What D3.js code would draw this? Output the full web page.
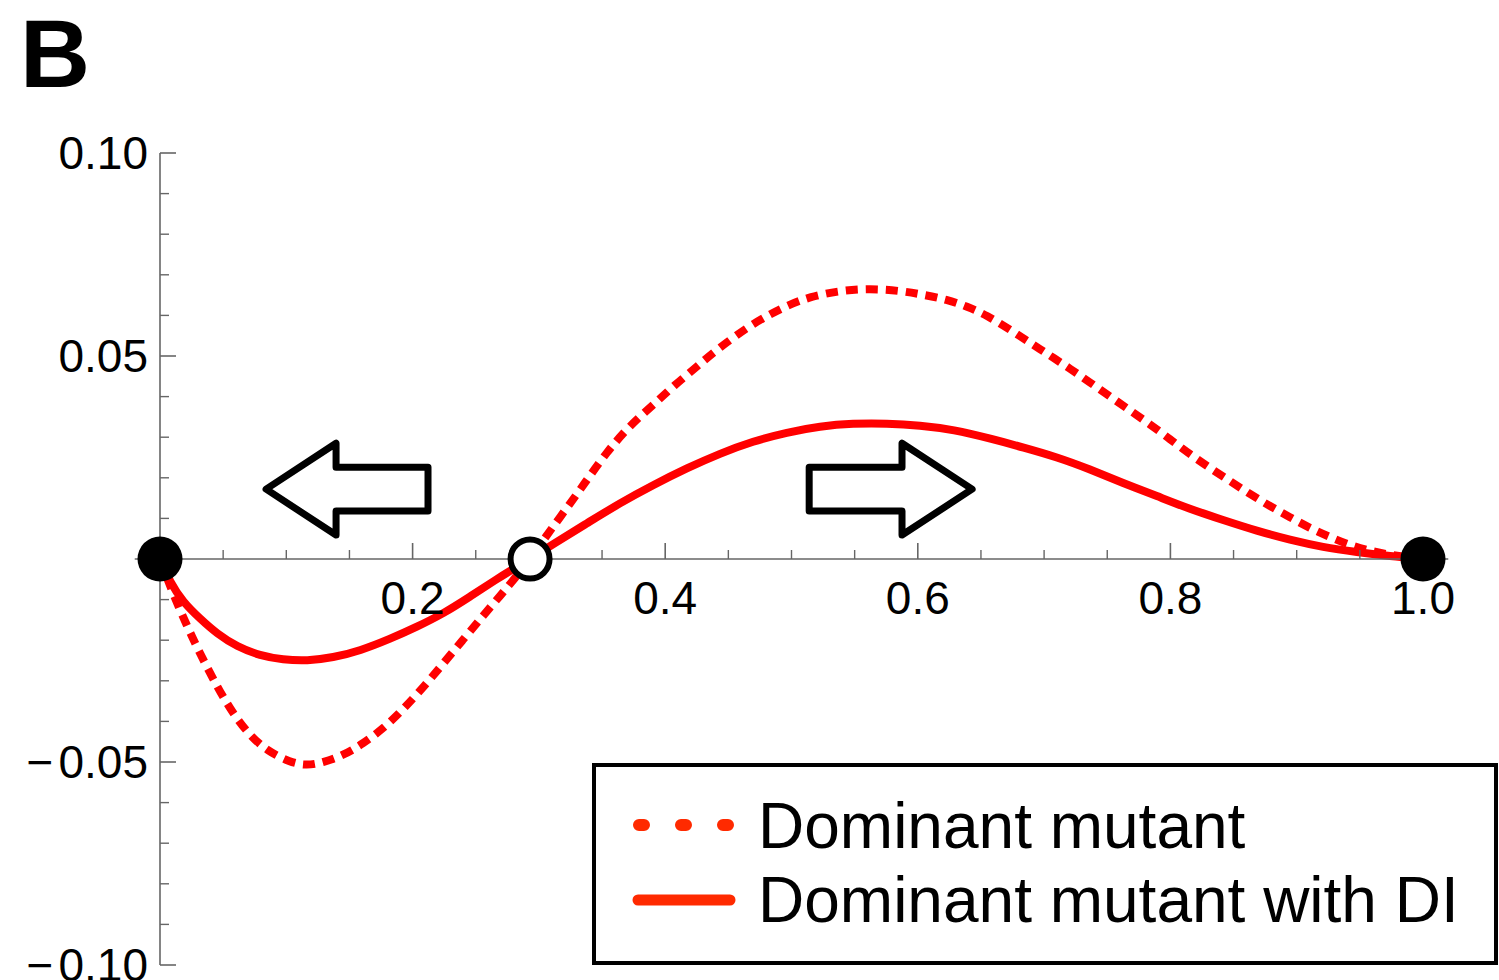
<!DOCTYPE html>
<html>
<head>
<meta charset="utf-8">
<script src="https://cdn.jsdelivr.net/npm/d3@7"></script>
<style>
  html, body { margin: 0; padding: 0; background: #fff; }
  svg { display: block; }
  text { font-family: "Liberation Sans", Arial, Helvetica, sans-serif; }
</style>
</head>
<body>
<svg id="chart" width="1499" height="980"></svg>
<script>
// Selection gradient for the mutant allele frequency (x in [0, 1])
const dominantMutant = [
  [0, 0], [0.0103, -0.0086], [0.0214, -0.0165], [0.0317, -0.0233], [0.0451, -0.0314],
  [0.0578, -0.0381], [0.0713, -0.0435], [0.0847, -0.0472], [0.1029, -0.0501], [0.1164, -0.0509],
  [0.1291, -0.0501], [0.1449, -0.0484], [0.1607, -0.0455], [0.1766, -0.0418], [0.1924, -0.0371],
  [0.2082, -0.0317], [0.2241, -0.0258], [0.2399, -0.0199], [0.2557, -0.0140], [0.2692, -0.0091],
  [0.2811, -0.0047], [0.2930, 0], [0.3048, 0.0052], [0.3167, 0.0103], [0.3302, 0.0160],
  [0.3405, 0.0206], [0.3539, 0.0263], [0.3666, 0.0310], [0.3800, 0.0351], [0.3935, 0.0388],
  [0.4062, 0.0425], [0.4252, 0.0474], [0.4410, 0.0516], [0.4648, 0.0570], [0.4806, 0.0599],
  [0.4964, 0.0624], [0.5146, 0.0646], [0.5384, 0.0661], [0.5621, 0.0666], [0.5859, 0.0661],
  [0.6041, 0.0651], [0.6231, 0.0639], [0.6390, 0.0622], [0.6548, 0.0600], [0.6730, 0.0565],
  [0.6888, 0.0533], [0.7047, 0.0501], [0.7205, 0.0469], [0.7363, 0.0435], [0.7522, 0.0400],
  [0.7680, 0.0366], [0.7838, 0.0332], [0.7997, 0.0295], [0.8155, 0.0258], [0.8314, 0.0224],
  [0.8472, 0.0192], [0.8630, 0.0160], [0.8789, 0.0130], [0.8947, 0.0103], [0.9105, 0.0076],
  [0.9264, 0.0054], [0.9422, 0.0034], [0.9580, 0.0020], [0.9739, 0.0010], [0.9897, 0.0004],
  [1.0, 0]
];

const dominantMutantDI = [
  [0, 0], [0.0079, -0.0057], [0.0182, -0.0106], [0.0317, -0.0147], [0.0451, -0.0184],
  [0.0610, -0.0216], [0.0792, -0.0238], [0.0974, -0.0248], [0.1164, -0.0251], [0.1370, -0.0243],
  [0.1584, -0.0226], [0.1821, -0.0197], [0.2035, -0.0167], [0.2241, -0.0135], [0.2454, -0.0093],
  [0.2668, -0.0049], [0.2795, -0.0025], [0.2930, 0], [0.3112, 0.0037], [0.3381, 0.0088],
  [0.3642, 0.0138], [0.3903, 0.0182], [0.4173, 0.0224], [0.4434, 0.0260], [0.4695, 0.0290],
  [0.4964, 0.0312], [0.5226, 0.0327], [0.5487, 0.0334], [0.5756, 0.0334], [0.6017, 0.0329],
  [0.6279, 0.0319], [0.6595, 0.0295], [0.6833, 0.0275], [0.7102, 0.0251], [0.7363, 0.0221],
  [0.7625, 0.0187], [0.7894, 0.0155], [0.8155, 0.0123], [0.8416, 0.0096], [0.8686, 0.0069],
  [0.8947, 0.0047], [0.9208, 0.0029], [0.9477, 0.0017], [0.9739, 0.0007], [1.0, 0]
];

const stablePoints = [0, 1];
const unstablePoints = [0.293];

const xMajorTicks = [0.2, 0.4, 0.6, 0.8, 1.0];
const xTickLabels = ["0.2", "0.4", "0.6", "0.8", "1.0"];
const yMajorTicks = [0.10, 0.05, -0.05, -0.10];
const yTickLabels = ["0.10", "0.05", "\u22120.05", "\u22120.10"];

const legendLabels = ["Dominant mutant", "Dominant mutant with DI"];

// Direction-of-selection arrows, in data units
const flowArrows = [
  { tip: 0.084, head: 0.1394, tail: 0.2122, mid: 0.0172, headHalf: 0.0113, shaftHalf: 0.0054 },
  { tip: 0.643, head: 0.5875, tail: 0.514, mid: 0.0172, headHalf: 0.0113, shaftHalf: 0.0054 }
];

const svg = d3.select("#chart");

const x = d3.scaleLinear().domain([0, 1]).range([160, 1423]);
const y = d3.scaleLinear().domain([-0.1, 0.1]).range([965, 153]);

const axisColor = "#666";

// Panel letter
svg.append("text")
  .attr("x", 20).attr("y", 87)
  .attr("font-size", 97).attr("font-weight", "bold")
  .text("B");

// Curves
const line = d3.line()
  .x(d => x(d[0]))
  .y(d => y(d[1]))
  .curve(d3.curveBasis);

svg.append("path")
  .datum(dominantMutant)
  .attr("d", line)
  .attr("fill", "none")
  .attr("stroke", "#ff0000")
  .attr("stroke-width", 8)
  .attr("stroke-dasharray", "12 8");

svg.append("path")
  .datum(dominantMutantDI)
  .attr("d", line)
  .attr("fill", "none")
  .attr("stroke", "#ff0000")
  .attr("stroke-width", 8);

// X axis: line through y = 0, upward ticks
const xAxisG = svg.append("g");
xAxisG.append("line")
  .attr("x1", x(-0.02)).attr("x2", x(1.02))
  .attr("y1", y(0)).attr("y2", y(0))
  .attr("stroke", axisColor).attr("stroke-width", 1.6);

const xMinor = d3.range(1, 20).map(i => i * 0.05).filter(v => Math.abs(v / 0.2 - Math.round(v / 0.2)) > 1e-6);
xAxisG.selectAll(".xminor").data(xMinor).join("line")
  .attr("x1", d => x(d)).attr("x2", d => x(d))
  .attr("y1", y(0)).attr("y2", y(0) - 9)
  .attr("stroke", axisColor).attr("stroke-width", 1.4);
xAxisG.selectAll(".xmajor").data(xMajorTicks).join("line")
  .attr("x1", d => x(d)).attr("x2", d => x(d))
  .attr("y1", y(0)).attr("y2", y(0) - 16)
  .attr("stroke", axisColor).attr("stroke-width", 1.6);
xAxisG.selectAll(".xlabel").data(xMajorTicks).join("text")
  .attr("x", d => x(d)).attr("y", y(0) + 55)
  .attr("text-anchor", "middle")
  .attr("font-size", 46)
  .text((d, i) => xTickLabels[i]);

// Y axis: line at x = 0, rightward ticks
const yAxisG = svg.append("g");
yAxisG.append("line")
  .attr("x1", x(0)).attr("x2", x(0))
  .attr("y1", y(0.1)).attr("y2", y(-0.1))
  .attr("stroke", axisColor).attr("stroke-width", 1.6);
const yMinor = d3.range(-10, 11).map(i => i * 0.01).filter(v => Math.abs(v / 0.05 - Math.round(v / 0.05)) > 1e-6);
yAxisG.selectAll(".yminor").data(yMinor).join("line")
  .attr("x1", x(0)).attr("x2", x(0) + 9)
  .attr("y1", d => y(d)).attr("y2", d => y(d))
  .attr("stroke", axisColor).attr("stroke-width", 1.4);
yAxisG.selectAll(".ymajor").data(yMajorTicks).join("line")
  .attr("x1", x(0)).attr("x2", x(0) + 16)
  .attr("y1", d => y(d)).attr("y2", d => y(d))
  .attr("stroke", axisColor).attr("stroke-width", 1.6);
yAxisG.selectAll(".ylabel").data(yMajorTicks).join("text")
  .attr("x", x(0) - 12).attr("y", d => y(d) + 16)
  .attr("text-anchor", "end")
  .attr("font-size", 46)
  .each(function(d, i) {
    const t = d3.select(this);
    const label = yTickLabels[i];
    if (label.startsWith("\u2212")) {
      t.append("tspan").text("\u2212");
      t.append("tspan").attr("dx", 5).text(label.slice(1));
    } else {
      t.text(label);
    }
  });

// Flow arrows
flowArrows.forEach(a => {
  const pts = [
    [a.tip, a.mid],
    [a.head, a.mid + a.headHalf],
    [a.head, a.mid + a.shaftHalf],
    [a.tail, a.mid + a.shaftHalf],
    [a.tail, a.mid - a.shaftHalf],
    [a.head, a.mid - a.shaftHalf],
    [a.head, a.mid - a.headHalf]
  ];
  svg.append("path")
    .attr("d", d3.line().x(p => x(p[0])).y(p => y(p[1]))(pts) + "Z")
    .attr("fill", "#fff")
    .attr("stroke", "#000")
    .attr("stroke-width", 7)
    .attr("stroke-linejoin", "round");
});

// Equilibria
svg.selectAll(".stable").data(stablePoints).join("circle")
  .attr("cx", d => x(d)).attr("cy", y(0))
  .attr("r", 22.5)
  .attr("fill", "#000");
svg.selectAll(".unstable").data(unstablePoints).join("circle")
  .attr("cx", d => x(d)).attr("cy", y(0))
  .attr("r", 19.5)
  .attr("fill", "#fff")
  .attr("stroke", "#000")
  .attr("stroke-width", 6);

// Legend
const legend = svg.append("g");
legend.append("rect")
  .attr("x", 594).attr("y", 765)
  .attr("width", 902).attr("height", 198)
  .attr("fill", "#fff")
  .attr("stroke", "#000")
  .attr("stroke-width", 4);

const legendColor = "#ff2a00";
legend.append("line")
  .attr("x1", 639).attr("x2", 731)
  .attr("y1", 825).attr("y2", 825)
  .attr("stroke", legendColor)
  .attr("stroke-width", 12)
  .attr("stroke-linecap", "round")
  .attr("stroke-dasharray", "5 37");
legend.append("line")
  .attr("x1", 638).attr("x2", 730)
  .attr("y1", 900).attr("y2", 900)
  .attr("stroke", legendColor)
  .attr("stroke-width", 11)
  .attr("stroke-linecap", "round");

legend.selectAll(".ltext").data(legendLabels).join("text")
  .attr("x", 758)
  .attr("y", (d, i) => 848 + i * 74)
  .attr("font-size", 64)
  .text(d => d);
</script>
</body>
</html>
